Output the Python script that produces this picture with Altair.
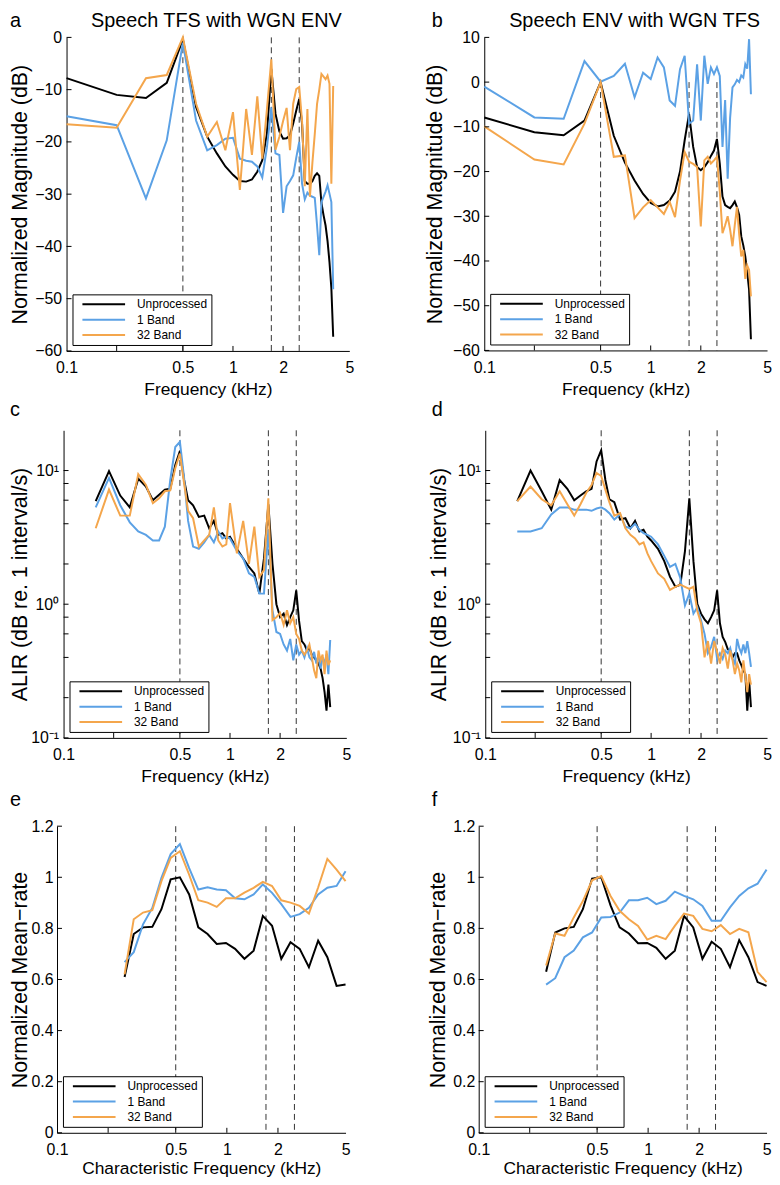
import altair as alt
import pandas as pd

FONT = "Liberation Sans"
SERIES = ["Unprocessed", "1 Band", "32 Band"]
COLORS = ["#000000", "#5BA1E5", "#F4A64C"]
DASH_F = [0.5, 1.7, 2.5]
X_LABELS = [0.1, 0.5, 1, 2, 5]
X_TICKS = [0.2, 0.5, 1, 2]

# ---------- panels a, b (spectra) ----------
F_AB = [0.1, 0.2, 0.3, 0.4, 0.5, 0.6, 0.7, 0.8, 0.9, 1.0,
        1.1, 1.2, 1.3, 1.4, 1.5, 1.6, 1.7, 1.8, 1.9, 2.0,
        2.1, 2.2, 2.3, 2.4, 2.5, 2.6, 2.7, 2.8, 2.9, 3.0,
        3.1, 3.2, 3.3, 3.4, 3.5, 3.6, 3.7, 3.8, 3.9, 4.0]
A_UNP = [-7.8, -11.0, -11.6, -8.7, -0.4, -13.3, -19.0, -22.2, -24.7, -26.3,
         -27.5, -27.6, -27.2, -25.7, -23.5, -18.4, -6.0, -14.6, -18.0, -19.4,
         -19.3, -18.7, -16.5, -14.0, -11.8, -16.5, -27.5, -28.0, -28.0, -27.5,
         -26.5, -26.0, -26.5, -31.7, -34.0, -36.0, -39.0, -43.0, -48.0, -57.3]
A_1B = [-15.1, -16.8, -30.8, -19.7, -1.0, -15.9, -21.6, -20.6, -19.4, -19.2,
        -23.2, -23.6, -23.8, -24.7, -26.8, -21.0, -13.4, -22.2, -22.5, -33.6,
        -28.5, -27.5, -26.4, -23.0, -20.0, -28.0, -31.0, -29.7, -30.3, -30.5,
        -30.7, -36.0, -41.7, -31.6, -30.5, -29.5, -28.3, -29.9, -31.5, -48.2]
A_32B = [-16.6, -17.3, -7.8, -7.2, 0.0, -12.7, -19.0, -16.2, -21.6, -14.3,
         -29.2, -13.7, -22.5, -11.3, -23.2, -13.7, -4.2, -21.5, -19.0, -16.0,
         -13.5, -21.6, -12.7, -9.9, -9.5, -16.0, -28.5, -13.7, -30.5, -24.0,
         -18.5, -12.7, -10.0, -7.0, -7.5, -8.0, -7.3, -8.9, -28.0, -9.3]
B_UNP = [-7.9, -11.2, -11.9, -8.6, 0.0, -12.0, -18.0, -22.0, -25.0, -27.0,
         -27.8, -27.5, -26.5, -24.5, -20.0, -13.0, -7.1, -14.5, -19.0, -19.7,
         -19.0, -17.9, -16.5, -15.3, -12.7, -18.2, -25.6, -27.5, -27.9, -28.2,
         -27.5, -26.7, -28.0, -29.7, -34.5, -36.5, -39.0, -42.5, -46.4, -57.5]
B_1B = [-1.0, -7.9, -8.2, 4.7, 0.1, 1.4, 4.1, -3.4, 2.1, 0.7,
        5.5, 3.3, -4.1, -5.3, 2.9, 5.9, -9.3, -8.6, 4.0, -8.6,
        5.9, -0.4, 3.3, 1.8, 3.3, 1.4, -14.5, -4.0, -21.6, -8.0,
        -1.2, -0.5, 0.5, 0.0, 1.5, 1.0, 4.0, 3.0, 9.6, -2.7]
B_32B = [-9.9, -17.3, -18.4, -9.3, 0.0, -16.7, -16.4, -30.4, -28.0, -26.4,
         -28.0, -29.5, -26.8, -30.2, -22.0, -15.6, -17.8, -18.3, -19.0, -32.3,
         -17.5, -16.7, -18.2, -17.5, -16.7, -24.5, -33.8, -32.0, -30.0, -33.0,
         -36.7, -32.0, -27.9, -34.0, -39.0, -37.5, -44.0, -41.0, -42.0, -47.9]

# ---------- panels c, d (ALIR) ----------
F_CD = [0.156, 0.1875, 0.219, 0.25, 0.281, 0.3125, 0.344, 0.375, 0.406, 0.4375, 0.469, 0.5,
        0.53, 0.56, 0.6, 0.65, 0.7, 0.75, 0.8, 0.85, 0.9, 0.95, 1.0,
        1.1, 1.2, 1.3, 1.4, 1.5, 1.6, 1.7, 1.8, 1.9, 2.0,
        2.1, 2.2, 2.3, 2.4, 2.5, 2.6, 2.7, 2.8, 2.9, 3.0,
        3.1, 3.2, 3.3, 3.4, 3.5, 3.6, 3.7, 3.8, 3.9, 4.0]
C_UNP = [5.9, 9.9, 6.5, 5.3, 8.7, 7.6, 6.0, 6.6, 7.2, 7.3, 11.0, 14.0,
         8.5, 6.0, 5.5, 4.5, 4.6, 3.7, 4.2, 3.3, 3.4, 3.1, 3.2,
         2.6, 2.2, 1.9, 1.7, 1.2, 2.2, 5.6, 2.0, 1.0, 0.8,
         0.85, 0.7, 0.8, 0.9, 1.27, 0.75, 0.53, 0.5, 0.45, 0.47,
         0.42, 0.4, 0.38, 0.36, 0.33, 0.28, 0.22, 0.16, 0.25, 0.17]
C_1B = [5.3, 8.8, 5.5, 4.1, 3.5, 3.3, 3.0, 3.0, 3.8, 8.5, 15.0, 16.4,
        8.8, 4.2, 2.7, 2.6, 2.9, 3.3, 2.9, 3.5, 3.1, 3.2, 3.1,
        2.5, 2.2, 1.7, 1.6, 1.2, 1.2, 3.6, 0.9, 0.62, 0.6,
        0.5, 0.45, 0.55, 0.38, 0.5, 0.42, 0.45, 0.4, 0.47, 0.4,
        0.38, 0.44, 0.36, 0.42, 0.33, 0.4, 0.36, 0.42, 0.3, 0.54]
C_32B = [3.7, 7.2, 4.6, 4.6, 9.4, 7.8, 5.7, 6.2, 7.0, 7.1, 10.4, 13.4,
         8.0, 5.0, 4.4, 2.7, 3.0, 3.3, 5.3, 3.0, 2.7, 2.8, 5.7,
         2.4, 4.2, 2.0, 3.8, 1.6, 1.8, 6.2, 0.76, 0.8, 0.86,
         0.7, 0.9, 0.72, 0.8, 0.6, 0.55, 0.45, 0.42, 0.45, 0.5,
         0.4, 0.32, 0.28, 0.45, 0.38, 0.42, 0.3, 0.45, 0.35, 0.38]
D_UNP = [5.9, 10.0, 7.0, 5.1, 8.5, 7.3, 6.0, 6.5, 7.0, 7.3, 11.7, 14.2,
         8.5, 6.1, 5.8, 4.3, 4.4, 3.7, 4.2, 3.5, 3.6, 3.2, 3.0,
         2.6, 2.1, 1.6, 1.35, 1.4, 2.5, 6.2, 2.1, 1.0, 0.85,
         0.77, 0.72, 0.8, 0.9, 1.27, 0.72, 0.57, 0.52, 0.46, 0.45,
         0.40, 0.43, 0.43, 0.38, 0.35, 0.32, 0.3, 0.16, 0.27, 0.17]
D_1B = [3.5, 3.5, 3.7, 4.7, 5.3, 5.3, 5.1, 5.1, 5.1, 5.0, 5.2, 5.3,
        5.1, 4.8, 4.3, 4.7, 3.8, 3.7, 4.0, 3.6, 3.4, 3.3, 3.2,
        2.8, 2.3, 1.9, 2.0, 1.57, 0.98, 1.2, 0.85, 0.95, 0.76,
        0.6, 0.43, 0.48, 0.57, 0.39, 0.43, 0.39, 0.45, 0.43, 0.47,
        0.39, 0.36, 0.55, 0.47, 0.43, 0.5, 0.43, 0.53, 0.43, 0.34]
D_32B = [5.9, 7.6, 6.1, 5.5, 7.0, 5.6, 4.6, 5.6, 6.8, 7.8, 9.6, 9.1,
         7.2, 5.8, 4.6, 4.8, 3.7, 3.3, 3.1, 2.8, 2.9, 2.4, 2.1,
         1.7, 1.55, 1.28, 1.35, 1.4, 1.35, 1.3, 1.35, 0.89, 0.72,
         0.4, 0.53, 0.36, 0.53, 0.44, 0.36, 0.47, 0.42, 0.33, 0.45,
         0.38, 0.3, 0.36, 0.32, 0.26, 0.38, 0.29, 0.22, 0.3, 0.25]

# ---------- panels e, f (mean rate) ----------
F_EF = [0.25, 0.283, 0.321, 0.364, 0.412, 0.467, 0.529, 0.600, 0.679, 0.770,
        0.872, 0.988, 1.118, 1.269, 1.438, 1.629, 1.846, 2.092, 2.370, 2.685,
        3.043, 3.448, 3.907, 4.427, 5.0]
E_UNP = [0.61, 0.778, 0.804, 0.806, 0.875, 0.992, 1.0, 0.933, 0.804, 0.778,
         0.739, 0.743, 0.72, 0.681, 0.713, 0.849, 0.81, 0.681, 0.746, 0.72,
         0.648, 0.752, 0.687, 0.575, 0.58]
E_1B = [0.668, 0.707, 0.816, 0.88, 0.998, 1.091, 1.13, 1.036, 0.952, 0.961,
        0.952, 0.949, 0.918, 0.914, 0.933, 0.972, 0.939, 0.895, 0.845, 0.856,
        0.881, 0.933, 0.959, 0.966, 1.024]
E_32B = [0.62, 0.836, 0.862, 0.871, 0.985, 1.076, 1.102, 1.01, 0.91, 0.901,
         0.884, 0.918, 0.918, 0.94, 0.959, 0.982, 0.966, 0.91, 0.901, 0.888,
         0.858, 0.96, 1.072, 1.03, 0.985]
F_UNP = [0.63, 0.784, 0.80, 0.806, 0.875, 0.995, 1.0, 0.89, 0.804, 0.78,
         0.742, 0.743, 0.724, 0.681, 0.713, 0.849, 0.804, 0.681, 0.748, 0.72,
         0.648, 0.754, 0.687, 0.59, 0.575]
F_1B = [0.58, 0.605, 0.687, 0.713, 0.765, 0.784, 0.843, 0.845, 0.862, 0.91,
        0.91, 0.92, 0.895, 0.908, 0.944, 0.927, 0.914, 0.888, 0.83, 0.83,
        0.882, 0.927, 0.957, 0.975, 1.03]
F_32B = [0.655, 0.78, 0.771, 0.843, 0.907, 0.988, 1.005, 0.927, 0.869, 0.836,
         0.81, 0.756, 0.771, 0.758, 0.81, 0.858, 0.849, 0.798, 0.789, 0.813,
         0.778, 0.798, 0.785, 0.63, 0.59]

Y_A = [0, -10, -20, -30, -40, -50, -60]
Y_B = [10, 0, -10, -20, -30, -40, -50, -60]
Y_CD = [0.1, 1, 10]
Y_CD_MINOR = [0.2, 0.4, 0.6, 0.8, 2, 4, 6, 8]
Y_EF = [0, 0.2, 0.4, 0.6, 0.8, 1.0, 1.2]

# ---------- layout (pixels inside the drawing, origin at its top-left) ----------
W, H = 770, 1177
# plot boxes: left, right, bottom, top
BOX = {
    "a": (59.0, 344.0, 341.0, 25.0),
    "b": (480.0, 765.0, 340.5, 25.0),
    "c": (56.0, 341.0, 731.0, 421.0),
    "d": (481.0, 765.0, 731.0, 421.0),
    "e": (49.4, 340.2, 1129.0, 820.0),
    "f": (474.4, 764.5, 1129.0, 820.0),
}
YTITLE_X = {"a": -40.3, "b": -43.3, "c": -37.3, "d": -40.3, "e": -31.2, "f": -34.7}
YLABEL_PAD = {"a": 5, "b": 5, "c": 5, "d": 5, "e": 4, "f": 4}
XTITLE_Y = {"a": 44, "b": 44, "c": 44, "d": 44, "e": 41, "f": 41}
LETTER_XY = {"a": (2, 15), "b": (427, 15), "c": (2, 407), "d": (427, 407),
             "e": (2, 800), "f": (427, 800)}
TITLE_X = {"a": 210, "b": 631.5}


def long_df(freqs, unp, b1, b32):
    rows = []
    for s, vals in zip(SERIES, (unp, b1, b32)):
        rows += [{"f": f, "v": v, "s": s} for f, v in zip(freqs, vals)]
    return pd.DataFrame(rows)


def ax(**kw):
    d = dict(domainColor="black", domainWidth=1, ticks=False, grid=False,
             labelFont=FONT, labelFontSize=16, labelColor="black",
             labelFlush=False, labelOverlap=False,
             titleFont=FONT, titleFontSize=17.5, titleFontWeight="normal",
             titleColor="black", titleBaseline="alphabetic")
    d.update(kw)
    return alt.Axis(**d)


def legend(lx, ly):
    return alt.Legend(title=None, orient="none", legendX=lx, legendY=ly, padding=4,
                      strokeColor="black", fillColor="white", cornerRadius=0,
                      labelFont=FONT, labelFontSize=12, labelColor="black",
                      symbolType="M-1,0H7.6", symbolSize=100, symbolStrokeWidth=2,
                      symbolOffset=5, labelOffset=44, rowPadding=3.5)


def panel(key, df, ydom, ylog, ylabels, yticks, yfmt, ytitle, xtitle, dash_top,
          top_title=None):
    x0, x1, yb, yt = BOX[key]
    xs = alt.Scale(type="log", domain=[0.1, 5], range=[x0, x1], nice=False)
    if ylog:
        ys = alt.Scale(type="log", domain=ydom, range=[yb, yt], nice=False)
    else:
        ys = alt.Scale(type="linear", domain=ydom, range=[yb, yt], nice=False, zero=False)
    xa = ax(orient="bottom", offset=yb - H, values=X_LABELS, format="~g", title=xtitle,
            labelPadding=9, titleY=XTITLE_Y[key])
    ykw = dict(orient="left", offset=-x0, values=ylabels, title=ytitle,
               labelPadding=YLABEL_PAD[key], titleX=YTITLE_X[key], titleFontSize=21.5)
    if ylog:
        ykw["labelExpr"] = "datum.value >= 10 ? '10\u00b9' : (datum.value >= 1 ? '10\u2070' : '10\u207b\u00b9')"
    else:
        ykw["format"] = yfmt
    ya = ax(**ykw)

    dash_df = pd.DataFrame({"f": DASH_F, "top": [dash_top] * 3, "bot": [ydom[0]] * 3})
    dash = alt.Chart(dash_df).mark_rule(color="#333333", strokeWidth=1, strokeDash=[6, 4]).encode(
        x=alt.X("f:Q", scale=xs, axis=xa),
        y=alt.Y("top:Q", scale=ys, axis=ya),
        y2="bot:Q")
    lines = alt.Chart(df).mark_line(strokeWidth=2).encode(
        x=alt.X("f:Q", scale=xs, axis=xa),
        y=alt.Y("v:Q", scale=ys, axis=ya),
        color=alt.Color("s:N", scale=alt.Scale(domain=SERIES, range=COLORS),
                        legend=legend(x0 + 6, yb - 57)))
    xt = alt.Chart(pd.DataFrame({"f": X_TICKS})).mark_rule(color="black", strokeWidth=1).encode(
        x=alt.X("f:Q", scale=xs, axis=xa), y=alt.value(yb), y2=alt.value(yb - 5))
    ytk = alt.Chart(pd.DataFrame({"v": yticks})).mark_rule(color="black", strokeWidth=1).encode(
        y=alt.Y("v:Q", scale=ys, axis=ya), x=alt.value(x0), x2=alt.value(x0 + 5))
    lx, ly = LETTER_XY[key]
    let = alt.Chart(pd.DataFrame({"t": [key]})).mark_text(
        font=FONT, fontSize=20, align="left", baseline="alphabetic", color="black").encode(
        text="t:N", x=alt.value(lx), y=alt.value(ly))
    layers = [dash, lines, xt, ytk, let]
    if top_title:
        tt = alt.Chart(pd.DataFrame({"t": [top_title]})).mark_text(
            font=FONT, fontSize=20, align="center", baseline="alphabetic", color="black").encode(
            text="t:N", x=alt.value(TITLE_X[key]), y=alt.value(15))
        layers.append(tt)
    return alt.layer(*layers)


pa = panel("a", long_df(F_AB, A_UNP, A_1B, A_32B), [-60, 0], False, Y_A, Y_A, "d",
           "Normalized Magnitude (dB)", "Frequency (kHz)", 0, "Speech TFS with WGN ENV")
pb = panel("b", long_df(F_AB, B_UNP, B_1B, B_32B), [-60, 10], False, Y_B, Y_B, "d",
           "Normalized Magnitude (dB)", "Frequency (kHz)", 0, "Speech ENV with WGN TFS")
pc = panel("c", long_df(F_CD, C_UNP, C_1B, C_32B), [0.1, 20], True, Y_CD, Y_CD + Y_CD_MINOR, None,
           "ALIR (dB re. 1 interval/s)", "Frequency (kHz)", 20)
pd_ = panel("d", long_df(F_CD, D_UNP, D_1B, D_32B), [0.1, 20], True, Y_CD, Y_CD + Y_CD_MINOR, None,
            "ALIR (dB re. 1 interval/s)", "Frequency (kHz)", 20)
pe = panel("e", long_df(F_EF, E_UNP, E_1B, E_32B), [0, 1.2], False, Y_EF, Y_EF, ".1~f",
           "Normalized Mean\u2212rate", "Characteristic Frequency (kHz)", 1.2)
pf = panel("f", long_df(F_EF, F_UNP, F_1B, F_32B), [0, 1.2], False, Y_EF, Y_EF, ".1~f",
           "Normalized Mean\u2212rate", "Characteristic Frequency (kHz)", 1.2)

chart = (alt.layer(pa, pb, pc, pd_, pe, pf)
         .resolve_scale(x="independent", y="independent", color="independent")
         .resolve_axis(x="independent", y="independent")
         .resolve_legend(color="independent")
         .properties(width=W, height=H, padding=0, background="white",
                     autosize=alt.AutoSizeParams(type="none"))
         .configure_view(stroke=None))

chart.save("out.html", embed_options={"renderer": "svg", "actions": False})
